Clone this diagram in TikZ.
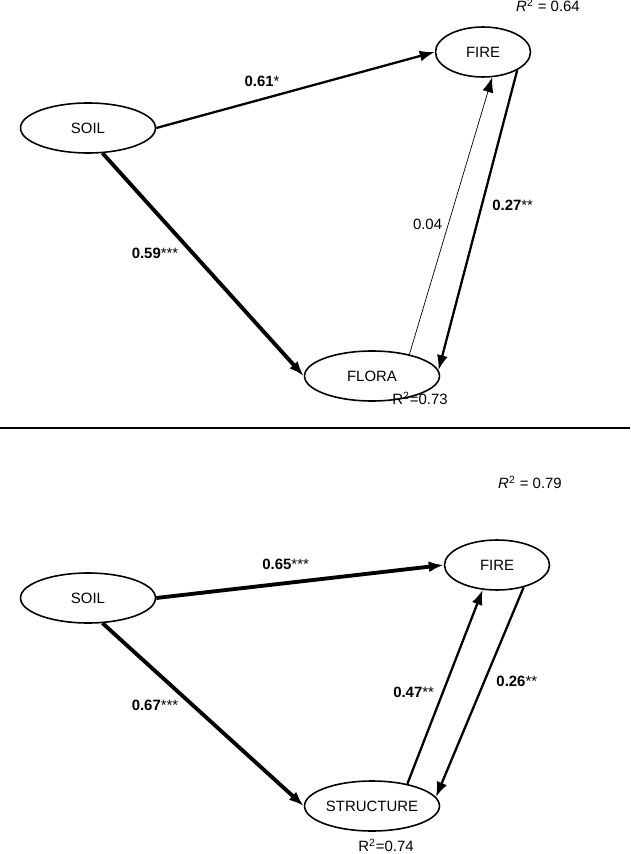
\documentclass[tikz,border=0pt]{standalone}
\usepackage{fontspec}
\setmainfont{Liberation Sans}
\usepackage{tikz}
\usetikzlibrary{arrows.meta}
\usetikzlibrary{shapes.geometric}

\begin{document}
\begin{tikzpicture}[x=0.02cm, y=-0.02cm,
	var/.style={draw, ellipse, line width=0.9pt, minimum width=2.7cm, minimum height=1cm, inner sep=0pt, font=\fontsize{8.5}{10}\selectfont},
	path/.style={-{Latex[length=3mm, width=2.2mm]}},
	thin path/.style={path, line width=0.4pt},
	mid path/.style={path, line width=1.3pt},
	thick path/.style={path, line width=2.2pt},
	lbl/.style={font=\fontsize{8.5}{10}\selectfont}
]
	\useasboundingbox (0,0) rectangle (630,854);

	% top panel
	\node[var] (soil1) at (88,128) {SOIL};
	\node[var, minimum width=1.9cm] (fire1) at (483,52) {FIRE};
	\node[var] (flora) at (372,376) {FLORA};
	\node[lbl] (r2fire1) at (548,5) {\textit{R}\textsuperscript{2} = 0.64};
	\node[lbl] (r2flora) at (420,398) {R\textsuperscript{2}=0.73};

	\draw[mid path] (soil1.east) -- (fire1.west) node[lbl, pos=0.38, above=3pt] {\textbf{0.61}*};
	\draw[thick path] (soil1.-60) -- (flora.west) node[lbl, pos=0.45, left=4pt] {\textbf{0.59}***};
	\draw[thin path] (flora.30) -- (fire1.-70) node[lbl, pos=0.47, left=0pt] {0.04};
	\draw[mid path] (fire1.-28) -- (flora.5) node[lbl, pos=0.45, right=2pt] {\textbf{0.27}**};

	\draw[line width=0.6pt] (0,428) -- (630,428);

	% bottom panel
	\node[var] (soil2) at (88,598) {SOIL};
	\node[var, minimum width=2.1cm] (fire2) at (497,565) {FIRE};
	\node[var] (structure) at (372,806) {STRUCTURE};
	\node[lbl] (r2fire2) at (530,482) {\textit{R}\textsuperscript{2} = 0.79};
	\node[lbl] (r2structure) at (386,845) {R\textsuperscript{2}=0.74};

	\draw[thick path] (soil2.east) -- (fire2.west) node[lbl, pos=0.45, above=3pt] {\textbf{0.65}***};
	\draw[thick path] (soil2.-60) -- (structure.west) node[lbl, pos=0.45, left=4pt] {\textbf{0.67}***};
	\draw[mid path] (structure.32) -- (fire2.-120) node[lbl, pos=0.47, left=1pt] {\textbf{0.47}**};
	\draw[mid path] (fire2.-40) -- (structure.8) node[lbl, pos=0.45, right=3pt] {\textbf{0.26}**};
\end{tikzpicture}
\end{document}
